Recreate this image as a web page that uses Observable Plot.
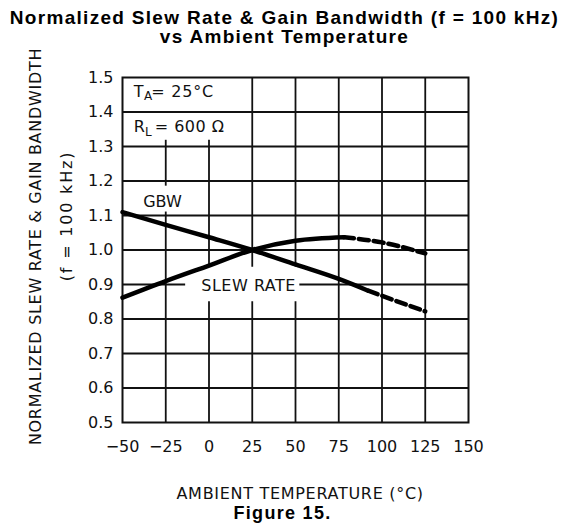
<!DOCTYPE html>
<html><head><meta charset="utf-8">
<script src="https://cdn.jsdelivr.net/npm/d3@7"></script>
<script src="https://cdn.jsdelivr.net/npm/@observablehq/plot@0.6"></script>
<style>
html,body{margin:0;padding:0;background:#fff;}
body{width:569px;height:529px;overflow:hidden;}
#title{font:bold 19px "Liberation Sans",Arial,sans-serif;letter-spacing:1.3px;line-height:19px;text-align:center;padding-top:8px;height:40px;color:#000;box-sizing:content-box;}
#chart svg{display:block;}
#caption{font:bold 18px "Liberation Sans",Arial,sans-serif;letter-spacing:1.3px;line-height:20px;text-align:center;color:#000;padding-right:4px;}
</style></head>
<body>
<div id="title">Normalized Slew Rate &amp; Gain Bandwidth (f = 100 kHz)<br>vs Ambient Temperature</div>
<div id="chart"></div>
<div id="caption">Figure 15.</div>
<script>
// ---- data ----
const xTicks = [-50, -25, 0, 25, 50, 75, 100, 125, 150];
const yTicks = [0.5, 0.6, 0.7, 0.8, 0.9, 1.0, 1.1, 1.2, 1.3, 1.4, 1.5];

const gbwSolidT = [-50, -25, 0, 25, 50, 75, 92];
const gbwSolidV = [1.11, 1.073, 1.037, 1.0, 0.958, 0.916, 0.882];
const gbwDashT = [92, 110, 125];
const gbwDashV = [0.882, 0.849, 0.822];

const slewSolidT = [-50, -25, 0, 25, 50, 78];
const slewSolidV = [0.862, 0.91, 0.955, 1.0, 1.027, 1.037];
const slewDashT = [78, 100, 125];
const slewDashV = [1.037, 1.022, 0.99];

// grid segments (gaps where the labels sit)
const vGridX  = [-25, -25, 0, 0, 25, 25, 50, 50, 75, 100, 125];
const vGridY1 = [0.5, 1.185, 0.5, 0.95, 0.5, 0.95, 0.5, 0.95, 0.5, 0.5, 0.5];
const vGridY2 = [1.11, 1.318, 0.85, 1.318, 0.85, 1.5, 0.85, 1.5, 1.5, 1.5, 1.5];
const hGridY  = [0.6, 0.7, 0.8, 0.9, 0.9, 1.0, 1.1, 1.2, 1.3, 1.4];
const hGridX1 = [-50, -50, -50, -50, 52.5, -50, -50, -50, -50, -50];
const hGridX2 = [150, 150, 150, -13.5, 150, 150, 150, 150, 150, 150];

// annotation texts
const annText = ["T", "A", "= 25°C", "R", "L", "= 600 Ω", "GBW", "SLEW RATE"];
const annX    = [-43.5, -37.6, -33.4, -43.5, -37.0, -31.4, -26.9, 22.9];
const annY    = [1.443, 1.435, 1.443, 1.341, 1.331, 1.341, 1.124, 0.8826];
const annSize = [16, 12, 16, 16, 12, 16, 16, 16];
const annAnchor = ["start", "start", "start", "start", "start", "start", "middle", "middle"];

const yTitle1 = "NORMALIZED SLEW RATE & GAIN BANDWIDTH";
const yTitle2 = "(f = 100 kHz)";
const xTitle = "AMBIENT TEMPERATURE (°C)";

// ---- build tables ----
const toPts = (T, V) => T.map((t, i) => ({t, v: V[i]}));
const vGrid = vGridX.map((x, i) => ({x, y1: vGridY1[i], y2: vGridY2[i]}));
const hGrid = hGridY.map((y, i) => ({y, x1: hGridX1[i], x2: hGridX2[i]}));
const ann = annText.map((text, i) => ({text, x: annX[i], y: annY[i], size: annSize[i], anchor: annAnchor[i]}));

const ink = "#111";
const gridW = 1.8;
const curveW = 4.5;

const chart = Plot.plot({
  width: 569,
  height: 455,
  marginTop: 29,
  marginBottom: 81,
  marginLeft: 122,
  marginRight: 101,
  style: {fontFamily: "'DejaVu Sans', sans-serif", fontSize: "16px", color: ink, background: "#fff"},
  x: {domain: [-50, 150]},
  y: {domain: [0.5, 1.5]},
  marks: [
    Plot.ruleX(vGrid, {x: "x", y1: "y1", y2: "y2", stroke: ink, strokeWidth: gridW}),
    Plot.ruleY(hGrid, {y: "y", x1: "x1", x2: "x2", stroke: ink, strokeWidth: gridW}),
    Plot.frame({stroke: ink, strokeWidth: 2}),
    Plot.axisX({ticks: xTicks, tickSize: 0, tickPadding: 18, label: null, fontSize: 16}),
    Plot.axisY({ticks: yTicks, tickSize: 0, tickPadding: 9, label: null, fontSize: 16, tickFormat: d3.format(".1f")}),
    Plot.line(toPts(gbwSolidT, gbwSolidV), {x: "t", y: "v", curve: "monotone-x", stroke: "#000", strokeWidth: curveW}),
    Plot.line(toPts(gbwDashT, gbwDashV), {x: "t", y: "v", curve: "monotone-x", stroke: "#000", strokeWidth: curveW, strokeDasharray: "10,5"}),
    Plot.line(toPts(slewSolidT, slewSolidV), {x: "t", y: "v", curve: "monotone-x", stroke: "#000", strokeWidth: curveW}),
    Plot.line(toPts(slewDashT, slewDashV), {x: "t", y: "v", curve: "monotone-x", stroke: "#000", strokeWidth: curveW, strokeDasharray: "10,5"}),
    Plot.text(ann.filter(d => d.size === 16 && d.anchor === "start"), {x: "x", y: "y", text: "text", textAnchor: "start", lineAnchor: "bottom", fontSize: 16, fill: ink}),
    Plot.text(ann.filter(d => d.size === 12), {x: "x", y: "y", text: "text", textAnchor: "start", lineAnchor: "bottom", fontSize: 12, fill: ink}),
    Plot.text(ann.filter(d => d.anchor === "middle"), {x: "x", y: "y", text: "text", textAnchor: "middle", lineAnchor: "bottom", fontSize: 16, fill: ink}),
    Plot.text([yTitle1], {text: d => d, frameAnchor: "left", rotate: -90, dx: -87, dy: -3.5, fontSize: 16, fill: ink, textAnchor: "middle"}),
    Plot.text([yTitle2], {text: d => d, frameAnchor: "left", rotate: -90, dx: -56, dy: -34, fontSize: 16, fill: ink, textAnchor: "middle"}),
    Plot.text([xTitle], {text: d => d, frameAnchor: "bottom", dx: 4.6, dy: 76, lineAnchor: "bottom", fontSize: 16, fill: ink, textAnchor: "middle"})
  ]
});
document.getElementById("chart").append(chart);
// letter spacing for the wide stroke-font look
const spacing = {[yTitle1]: "0.7px", [xTitle]: "0.7px", [yTitle2]: "1.8px", "SLEW RATE": "0.5px", "= 25°C": "0.8px", "= 600 Ω": "0.5px"};
d3.select(chart).selectAll("text").each(function() {
  const s = spacing[this.textContent];
  if (s) this.style.letterSpacing = s;
});
</script>
</body></html>
